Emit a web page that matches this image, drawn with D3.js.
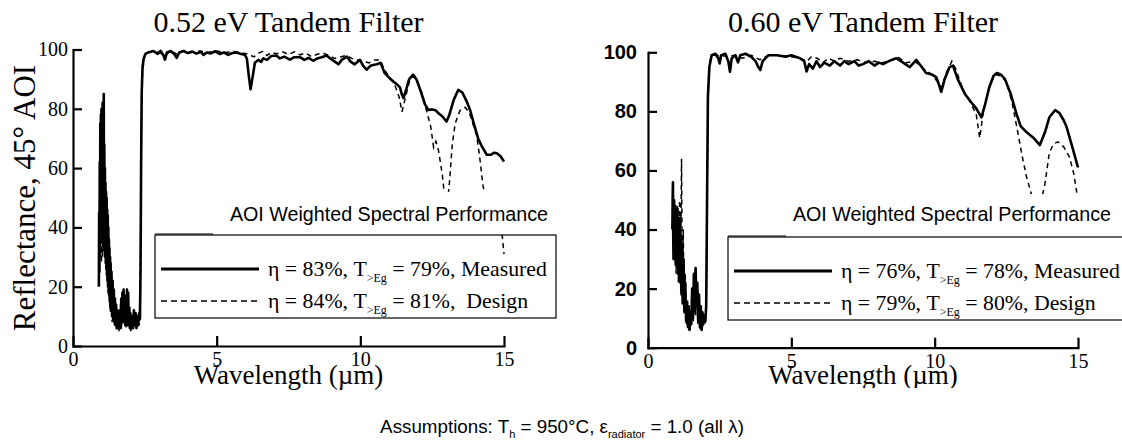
<!DOCTYPE html>
<html>
<head>
<meta charset="utf-8">
<script src="https://cdn.jsdelivr.net/npm/d3@7"></script>
<style>
  body { margin: 0; background: #fff; }
  svg text { white-space: pre; }
</style>
</head>
<body>
<svg id="chart" width="1122" height="441"></svg>
<script>
// ---- data ----
const wlTicks = [0, 5, 10, 15];
const rTicks = [0, 20, 40, 60, 80, 100];

// 0.52 eV filter, measured (solid) : [wavelength um, reflectance %]
const measured052 = [
  [0.90,20],[0.91,45],[0.92,25],[0.93,62],[0.94,30],[0.95,75],[0.96,35],[0.97,78],[0.98,40],[0.99,80],
  [1.00,38],[1.01,72],[1.02,42],[1.03,82],[1.04,40],[1.05,70],[1.06,36],[1.07,85],[1.08,38],[1.09,68],
  [1.10,32],[1.11,60],[1.12,30],[1.13,55],[1.14,28],[1.15,52],[1.16,26],[1.17,50],[1.18,24],[1.19,46],
  [1.20,22],[1.21,44],[1.22,20],[1.23,40],[1.24,18],[1.25,36],[1.26,17],[1.27,33],[1.28,15],[1.29,30],
  [1.30,13],[1.31,28],[1.32,12],[1.34,25],[1.36,10],[1.38,22],[1.40,9],[1.42,19],[1.44,8],[1.46,16],
  [1.48,7],[1.50,14],[1.52,6],[1.54,12],[1.56,6],[1.58,10],[1.60,7],[1.63,12],[1.66,6],[1.68,16],
  [1.70,8],[1.72,18],[1.74,9],[1.76,19],[1.78,8],[1.80,15],[1.82,7],[1.84,17],[1.86,8],[1.88,19],
  [1.90,7],[1.92,18],[1.94,8],[1.96,13],[1.98,6],[2.00,11],[2.03,6],[2.06,10],[2.09,6],[2.12,12],
  [2.15,7],[2.18,11],[2.21,6],[2.24,10],[2.27,7],[2.30,11],[2.33,9],[2.35,25],[2.37,60],[2.39,85],
  [2.42,94],[2.46,97],[2.52,98.5],[2.62,99],[2.8,99.5],[2.95,98.5],[3.05,99.5],[3.15,98],[3.2,96.6],[3.27,99],
  [3.4,99.5],[3.52,98.5],[3.61,97.2],[3.7,99],[3.85,99.5],[4.0,98.8],[4.15,99.3],[4.3,98.6],[4.45,99.2],[4.54,98.2],
  [4.65,99],[4.8,98.7],[4.95,99.4],[5.1,98.5],[5.25,99],[5.4,98.2],[5.55,98.8],[5.7,99],[5.85,98.5],[5.98,98.2],
  [6.05,97],[6.12,91],[6.18,86.6],[6.24,90],[6.33,95.5],[6.45,96.5],[6.55,95.8],[6.62,97],[6.75,96.5],[6.9,97.8],
  [7.08,98],[7.2,97],[7.35,97.6],[7.55,96.6],[7.7,97.4],[7.9,97.4],[8.05,96.5],[8.2,97.2],[8.36,96.2],[8.5,97],
  [8.65,97.4],[8.83,98],[8.95,97],[9.1,96],[9.24,95],[9.35,96.5],[9.53,97.6],[9.65,96],[9.8,95],[9.99,96.5],
  [10.1,94.5],[10.22,93.2],[10.35,94.5],[10.45,94.8],[10.57,95],[10.7,95.5],[10.85,92],[11.0,90.5],[11.15,89.2],[11.3,88],
  [11.38,87.2],[11.44,85],[11.5,83.6],[11.58,86],[11.7,90],[11.84,91.5],[11.95,90],[12.1,86],[12.25,81.5],[12.37,79.6],
  [12.5,79.8],[12.62,79.5],[12.72,78.5],[12.85,77.5],[13.0,75.7],[13.1,78],[13.25,83],[13.41,86.4],[13.55,85.5],[13.7,82.5],
  [13.82,79.6],[13.95,75],[14.1,70],[14.23,67.3],[14.4,64.5],[14.55,64.5],[14.65,65.2],[14.75,65],[14.88,64],[15.0,62.2]
];

// 0.52 eV filter, design (dashed)
const design052 = [
  [0.95,30],[0.97,50],[0.99,28],[1.01,55],[1.03,30],[1.05,60],[1.07,32],[1.09,65],[1.11,30],[1.13,52],
  [1.15,26],[1.17,48],[1.19,22],[1.21,40],[1.23,18],[1.25,34],[1.27,15],[1.29,28],[1.31,11],[1.33,24],
  [1.36,8],[1.40,18],[1.44,7],[1.48,13],[1.52,6],[1.56,11],[1.60,5],[1.65,14],[1.69,6],[1.73,17],
  [1.77,8],[1.81,14],[1.85,6],[1.89,17],[1.93,7],[1.97,11],[2.01,5],[2.06,9],[2.11,6],[2.16,11],
  [2.21,6],[2.26,9],[2.31,7],[2.35,30],[2.38,75],[2.42,93],[2.5,98],[2.6,99],[2.8,99.5],[3.0,99],
  [3.2,98],[3.4,99.5],[3.6,98.5],[3.8,99.5],[4.1,99],[4.4,99.5],[4.7,99],[5.0,99.5],[5.3,99],[5.6,99.3],
  [5.9,98.8],[6.1,98.4],[6.3,97.5],[6.45,98.8],[6.6,99.3],[6.75,98],[6.9,99],[7.1,98.6],[7.3,99.2],[7.5,98.3],
  [7.7,99.2],[7.9,98.2],[8.1,98.8],[8.3,97.6],[8.5,98.4],[8.7,98.8],[8.9,98],[9.1,97],[9.3,97.5],[9.5,98],
  [9.7,97],[9.9,96.5],[10.1,96],[10.3,95.5],[10.5,96.5],[10.69,96.5],[10.85,93],[11.0,91],[11.2,88],[11.35,84],
  [11.45,79],[11.55,83],[11.7,89],[11.85,91],[12.0,89],[12.15,85],[12.3,79.5],[12.45,74],[12.55,67],[12.63,69],
  [12.72,66],[12.85,58],[12.95,49],[13.02,47],[13.1,55],[13.2,68],[13.3,75],[13.47,79.5],[13.65,80.5],[13.8,78.5],
  [13.95,74],[14.05,71],[14.15,64],[14.27,54],[14.4,48],[14.6,45],[14.8,41],[14.93,38],[15.0,31]
];

// 0.60 eV filter, measured (solid)
const measured060 = [
  [0.85,40],[0.86,50],[0.87,56],[0.88,38],[0.89,30],[0.90,46],[0.91,50],[0.92,32],[0.93,35],[0.94,46],
  [0.95,48],[0.96,30],[0.97,28],[0.98,42],[0.99,45],[1.00,32],[1.01,30],[1.02,44],[1.03,47],[1.04,28],
  [1.05,25],[1.06,40],[1.07,42],[1.08,26],[1.09,28],[1.10,41],[1.11,44],[1.12,24],[1.13,22],[1.14,36],
  [1.15,38],[1.16,20],[1.17,18],[1.18,33],[1.19,35],[1.21,15],[1.24,30],[1.27,12],[1.30,22],[1.33,9],
  [1.36,15],[1.39,7],[1.42,14],[1.45,6],[1.48,12],[1.51,8],[1.54,20],[1.57,10],[1.60,25],[1.63,12],
  [1.66,27],[1.69,14],[1.72,22],[1.75,9],[1.78,18],[1.81,7],[1.84,14],[1.87,6],[1.90,12],[1.93,8],
  [1.96,11],[2.00,9],[2.03,14],[2.06,50],[2.09,85],[2.14,95],[2.22,99],[2.35,99.5],[2.45,98],[2.5,96.2],
  [2.55,99],[2.7,99.5],[2.8,97],[2.86,93.4],[2.92,98],[3.05,99],[3.14,96.6],[3.22,99],[3.4,99.5],[3.6,98.5],
  [3.75,97],[3.85,95],[3.92,94],[4.0,97],[4.2,99],[4.5,99],[4.8,98.5],[5.0,99],[5.3,98],[5.45,97],
  [5.53,93.5],[5.62,96],[5.75,94.5],[5.88,97],[6.0,95],[6.15,96.5],[6.34,95.5],[6.5,97],[6.7,95.5],[6.85,97],
  [7.0,96],[7.2,97],[7.35,95.5],[7.5,96],[7.7,97],[7.9,95.5],[8.05,96.5],[8.2,96],[8.4,97],[8.66,98],
  [8.9,96.5],[9.13,95],[9.36,97.4],[9.55,95],[9.7,93],[9.9,92.5],[10.06,91.5],[10.15,89],[10.23,86.6],[10.35,91],
  [10.52,95],[10.64,95.5],[10.8,91],[11.05,86],[11.28,83],[11.45,81],[11.63,78],[11.75,82],[11.9,88],[12.05,92],
  [12.17,93],[12.3,92.5],[12.45,91],[12.65,86],[12.86,79],[13.0,75],[13.2,73],[13.45,71],[13.67,68.6],[13.85,73],
  [14.0,78],[14.2,80.4],[14.35,79.5],[14.5,77],[14.6,74.8],[14.8,68],[15.0,61]
];

// 0.60 eV filter, design (dashed)
const design060 = [
  [0.90,30],[0.94,45],[0.98,25],[1.02,48],[1.06,22],[1.10,50],[1.14,30],[1.17,64],[1.20,20],[1.23,40],
  [1.26,12],[1.30,25],[1.34,8],[1.38,16],[1.42,6],[1.46,13],[1.50,7],[1.54,18],[1.58,9],[1.62,24],
  [1.66,11],[1.70,20],[1.74,8],[1.78,15],[1.82,6],[1.86,12],[1.90,7],[1.95,10],[2.00,8],[2.04,20],
  [2.07,60],[2.11,90],[2.16,97],[2.25,99],[2.5,99],[2.8,98.5],[3.0,99],[3.3,98],[3.6,99],[3.9,97.5],
  [4.2,99],[4.6,99],[5.0,98.5],[5.3,98],[5.55,97],[5.7,98.5],[5.9,98],[6.1,96.5],[6.3,98],[6.5,97],
  [6.7,98],[7.0,97],[7.3,97.5],[7.6,96.5],[7.9,97],[8.2,96.5],[8.5,97.5],[8.7,98.5],[9.0,96.5],[9.3,97],
  [9.6,94.5],[9.9,92.5],[10.1,90],[10.25,88],[10.4,93],[10.6,97],[10.75,94],[11.0,87],[11.25,83],[11.45,79],
  [11.57,71],[11.7,80],[11.9,88],[12.1,92.5],[12.3,92],[12.5,90],[12.7,83],[12.86,75],[13.05,65],[13.2,58],
  [13.43,50],[13.6,45],[13.84,55],[14.0,66],[14.15,69],[14.3,69.7],[14.5,68],[14.7,64.6],[14.85,59],[15.0,50]
];

const legend052 = [
  { eta: "83%", tEg: "79%", label: "Measured" },
  { eta: "84%", tEg: "81%", label: " Design" }
];
const legend060 = [
  { eta: "76%", tEg: "78%", label: "Measured" },
  { eta: "79%", tEg: "80%", label: "Design" }
];

// ---- drawing ----
const serif = "'Liberation Serif', 'Times New Roman', serif";
const sans = "'Liberation Sans', Arial, sans-serif";

const svg = d3.select("#chart");
svg.append("rect").attr("width", 1122).attr("height", 441).attr("fill", "#fff");

const panels = [
  { title: "0.52 eV Tandem Filter", measured: measured052, design: design052, legend: legend052,
    left: 73, right: 504, top: 49.5, bottom: 346, yFont: serif, yWeight: "normal", yLabelRight: 68,
    coverLeft: 215, coverRight: 556, boxLeft: 155, boxRight: 556, boxTop: 235, boxBottom: 318,
    captionRight: 548, clipX: false },
  { title: "0.60 eV Tandem Filter", measured: measured060, design: design060, legend: legend060,
    left: 648, right: 1078, top: 52.3, bottom: 347.7, yFont: sans, yWeight: "bold", yLabelRight: 637,
    coverLeft: 790, coverRight: 1122, boxLeft: 728, boxRight: 1130, boxTop: 237, boxBottom: 320,
    captionRight: 1111, clipX: true }
];

panels.forEach((p, i) => drawPanel(p, i));

function drawPanel(p, i) {
  const x = d3.scaleLinear().domain([0, 15]).range([p.left, p.right]);
  const y = d3.scaleLinear().domain([0, 100]).range([p.bottom, p.top]);
  const g = svg.append("g");

  const line = d3.line().x(d => x(d[0])).y(d => y(d[1]));

  // curves
  g.append("path").datum(p.design)
    .attr("d", line)
    .attr("fill", "none")
    .attr("stroke", "#000")
    .attr("stroke-width", 1.5)
    .attr("stroke-dasharray", "5,4");

  g.append("path").datum(p.measured)
    .attr("d", line)
    .attr("fill", "none")
    .attr("stroke", "#000")
    .attr("stroke-width", 2.6)
    .attr("stroke-linejoin", "round");

  // white text box behind the caption hides the curves below ~52%
  g.append("rect")
    .attr("x", p.coverLeft).attr("y", y(52))
    .attr("width", p.coverRight - p.coverLeft)
    .attr("height", p.boxTop - y(52))
    .attr("fill", "#fff");

  g.append("text")
    .attr("x", p.captionRight)
    .attr("y", 221)
    .attr("text-anchor", "end")
    .attr("font-family", sans)
    .attr("font-size", 19.7)
    .text("AOI Weighted Spectral Performance");

  // axes, ticks point inward
  const yAxis = d3.axisLeft(y).tickValues(rTicks).tickSizeInner(-9).tickSizeOuter(0).tickPadding(p.left - p.yLabelRight);
  const yg = g.append("g").attr("transform", `translate(${p.left},0)`).call(yAxis);
  yg.attr("font-family", p.yFont).attr("font-size", 20).attr("font-weight", p.yWeight);

  const xAxis = d3.axisBottom(x).tickValues(wlTicks).tickSizeInner(-10).tickSizeOuter(0).tickPadding(6);
  const xg = g.append("g").attr("transform", `translate(0,${p.bottom})`).call(xAxis);
  xg.attr("font-family", serif).attr("font-size", 20);

  [yg, xg].forEach(a => {
    a.select(".domain").attr("stroke-width", 2.2).attr("stroke-linecap", "square");
    a.selectAll(".tick line").attr("stroke-width", 2.2);
    a.selectAll(".tick text").attr("fill", "#000");
  });

  // titles
  g.append("text")
    .attr("x", (p.left + p.right) / 2).attr("y", 32)
    .attr("text-anchor", "middle")
    .attr("font-family", serif).attr("font-size", 30)
    .text(p.title);

  let xTitleParent = g;
  if (p.clipX) {
    svg.append("clipPath").attr("id", "xclip" + i)
      .append("rect").attr("x", 0).attr("y", 0).attr("width", 1122).attr("height", 388);
    xTitleParent = g.append("g").attr("clip-path", `url(#xclip${i})`);
  }
  xTitleParent.append("text")
    .attr("x", (p.left + p.right) / 2).attr("y", 384)
    .attr("text-anchor", "middle")
    .attr("font-family", serif).attr("font-size", 27)
    .text("Wavelength (\u00b5m)");

  // legend box
  g.append("rect")
    .attr("x", p.boxLeft).attr("y", p.boxTop)
    .attr("width", p.boxRight - p.boxLeft).attr("height", p.boxBottom - p.boxTop)
    .attr("fill", "none").attr("stroke", "#000").attr("stroke-width", 1.2);
  g.append("line")
    .attr("x1", p.boxLeft).attr("x2", p.boxLeft + 58)
    .attr("y1", p.boxTop - 1).attr("y2", p.boxTop - 1)
    .attr("stroke", "#000").attr("stroke-width", 1.2);

  const rowY = [p.boxTop + 34, p.boxTop + 66];
  p.legend.forEach((row, k) => {
    g.append("line")
      .attr("x1", p.boxLeft + 6).attr("x2", p.boxLeft + 104)
      .attr("y1", rowY[k]).attr("y2", rowY[k])
      .attr("stroke", "#000")
      .attr("stroke-width", k === 0 ? 3 : 1.5)
      .attr("stroke-dasharray", k === 0 ? null : "6,4");
    const t = g.append("text")
      .attr("x", p.boxLeft + 113).attr("y", rowY[k] + 7)
      .attr("font-family", serif).attr("font-size", 21.8);
    t.append("tspan").text(`\u03b7 = ${row.eta}, T`);
    t.append("tspan").attr("font-size", 12).attr("dy", 6).text(">Eg");
    t.append("tspan").attr("dy", -6).text(` = ${row.tEg}, ${row.label}`);
  });

  if (i === 0) {
    g.append("text")
      .attr("transform", "translate(35,198) rotate(-90)")
      .attr("text-anchor", "middle")
      .attr("font-family", serif).attr("font-size", 31)
      .text("Reflectance, 45\u00b0 AOI");
  }
}

// footer note
const foot = svg.append("text")
  .attr("x", 562).attr("y", 433)
  .attr("text-anchor", "middle")
  .attr("font-family", sans).attr("font-size", 18.8);
foot.append("tspan").text("Assumptions: T");
foot.append("tspan").attr("font-size", 11).attr("dy", 5).text("h");
foot.append("tspan").attr("dy", -5).text(" = 950\u00b0C, \u03b5");
foot.append("tspan").attr("font-size", 11).attr("dy", 5).text("radiator");
foot.append("tspan").attr("dy", -5).text(" = 1.0 (all \u03bb)");
</script>
</body>
</html>
